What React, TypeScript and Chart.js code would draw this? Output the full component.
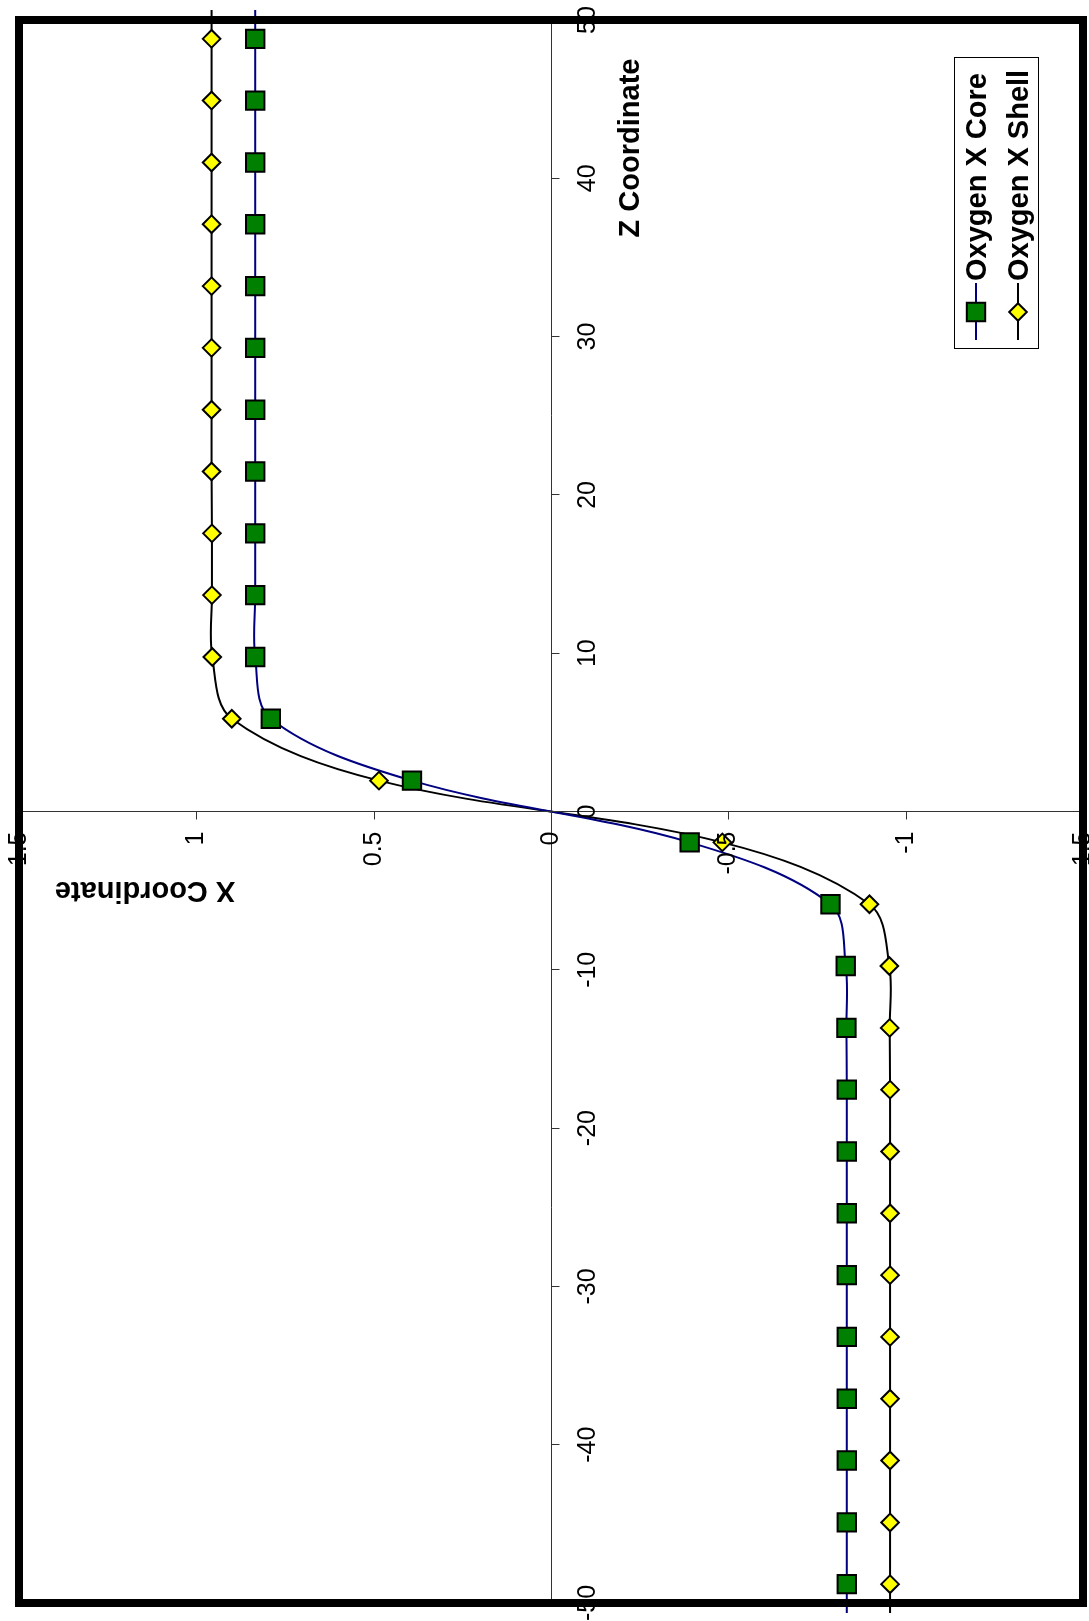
import React, { useEffect, useRef } from 'react';
import { Chart, registerables } from 'chart.js';

Chart.register(...registerables);

// Z position of every oxygen layer (Å), lowest first
const zCoordinates = [
  -52.72, -48.81, -44.91, -41.0, -37.1, -33.19, -29.29, -25.38, -21.48, -17.57, -13.67, -9.76, -5.86, -1.95,
  1.95, 5.86, 9.76, 13.67, 17.57, 21.48, 25.38, 29.29, 33.19, 37.1, 41.0, 44.91, 48.81, 52.72,
];

// X displacement of the core oxygen in each layer
const oxygenXCore = [
  -0.834, -0.834, -0.834, -0.834, -0.834, -0.834, -0.834, -0.834, -0.834, -0.834, -0.833, -0.831, -0.788, -0.391,
  0.392, 0.79, 0.834, 0.834, 0.834, 0.834, 0.834, 0.834, 0.834, 0.834, 0.834, 0.834, 0.834, 0.834,
];

// X displacement of the shell oxygen in each layer
const oxygenXShell = [
  -0.956, -0.956, -0.956, -0.956, -0.956, -0.956, -0.956, -0.956, -0.956, -0.956, -0.955, -0.954, -0.898, -0.483,
  0.485, 0.9, 0.955, 0.956, 0.956, 0.957, 0.957, 0.957, 0.957, 0.957, 0.957, 0.957, 0.957, 0.957,
];

const seriesNames = ['Oxygen X Core', 'Oxygen X Shell'];
const xAxisTitle = 'X Coordinate';
const zAxisTitle = 'Z Coordinate';
const xTickValues = [1.5, 1, 0.5, 0, -0.5, -1, -1.5];
const zTickValues = [-50, -40, -30, -20, -10, 0, 10, 20, 30, 40, 50];

const CORE_LINE = '#000080';
const CORE_FILL = '#008000';
const SHELL_LINE = '#000000';
const SHELL_FILL = '#FFFF00';
const FONT_FAMILY = '"Liberation Sans", Arial, Helvetica, sans-serif';

const pairs = (xs: number[]) => xs.map((x, i) => ({ x, y: zCoordinates[i] }));

function drawSquare(ctx: CanvasRenderingContext2D, cx: number, cy: number, half: number) {
  ctx.beginPath();
  ctx.rect(cx - half, cy - half, half * 2, half * 2);
  ctx.fillStyle = CORE_FILL;
  ctx.fill();
  ctx.lineWidth = 2;
  ctx.strokeStyle = '#000';
  ctx.stroke();
}

function drawDiamond(ctx: CanvasRenderingContext2D, cx: number, cy: number, r: number) {
  ctx.beginPath();
  ctx.moveTo(cx - r, cy);
  ctx.lineTo(cx, cy - r);
  ctx.lineTo(cx + r, cy);
  ctx.lineTo(cx, cy + r);
  ctx.closePath();
  ctx.fillStyle = SHELL_FILL;
  ctx.fill();
  ctx.lineWidth = 2;
  ctx.strokeStyle = '#000';
  ctx.stroke();
}

// Axes crossing at the origin, their labels, titles, frame and legend.
// The whole chart is laid out turned a quarter turn, so text runs bottom-to-top.
const crossedAxesPlugin = {
  id: 'crossedAxes',
  afterDatasetsDraw(chart: any) {
    const { ctx, chartArea: a } = chart;
    const xs = chart.scales.x;
    const ys = chart.scales.y;
    const x0 = Math.round(xs.getPixelForValue(0)) + 0.5;
    const y0 = Math.floor(ys.getPixelForValue(0)) + 0.5;

    ctx.save();
    ctx.strokeStyle = '#333';
    ctx.lineWidth = 1;
    ctx.beginPath();
    ctx.moveTo(x0, a.top);
    ctx.lineTo(x0, a.bottom);
    ctx.moveTo(a.left, y0);
    ctx.lineTo(a.right, y0);
    for (const v of zTickValues) {
      const py = Math.floor(ys.getPixelForValue(v)) + 0.5;
      ctx.moveTo(x0, py);
      ctx.lineTo(x0 + 8, py);
    }
    for (const v of xTickValues) {
      const px = Math.round(xs.getPixelForValue(v)) + 0.5;
      ctx.moveTo(px, y0);
      ctx.lineTo(px, y0 + 8);
    }
    ctx.stroke();

    // tick labels
    ctx.fillStyle = '#000';
    ctx.font = `25px ${FONT_FAMILY}`;
    ctx.textBaseline = 'middle';
    for (const v of zTickValues) {
      ctx.save();
      ctx.translate(x0 + 37, ys.getPixelForValue(v));
      ctx.rotate(-Math.PI / 2);
      ctx.textAlign = 'center';
      ctx.fillText(String(v), 0, 0);
      ctx.restore();
    }
    for (const v of xTickValues) {
      ctx.save();
      ctx.translate(xs.getPixelForValue(v), y0 + 20);
      ctx.rotate(-Math.PI / 2);
      ctx.textAlign = 'right';
      ctx.fillText(String(v), 0, 0);
      ctx.restore();
    }

    // axis titles
    ctx.font = `bold 29px ${FONT_FAMILY}`;
    ctx.textBaseline = 'alphabetic';
    ctx.textAlign = 'center';
    ctx.save();
    ctx.translate(x0 + 87, 148);
    ctx.rotate(-Math.PI / 2);
    ctx.fillText(zAxisTitle, 0, 0);
    ctx.restore();
    ctx.save();
    ctx.translate(145, y0 + 70);
    ctx.rotate(Math.PI);
    ctx.fillText(xAxisTitle, 0, 0);
    ctx.restore();

    // plot frame
    ctx.lineWidth = 8;
    ctx.strokeStyle = '#000';
    ctx.strokeRect(a.left, a.top, a.right - a.left, a.bottom - a.top);

    // legend
    const box = { left: 954.5, top: 57.5, width: 84, height: 291 };
    ctx.fillStyle = '#fff';
    ctx.fillRect(box.left, box.top, box.width, box.height);
    ctx.lineWidth = 1;
    ctx.strokeStyle = '#000';
    ctx.strokeRect(box.left, box.top, box.width, box.height);
    const keyTop = 283;
    const keyBottom = 340;
    const keyMid = 312;
    const columns = [976, 1018];
    columns.forEach((cx, i) => {
      ctx.beginPath();
      ctx.moveTo(cx, keyTop);
      ctx.lineTo(cx, keyBottom);
      ctx.lineWidth = 2;
      ctx.strokeStyle = i === 0 ? CORE_LINE : SHELL_LINE;
      ctx.stroke();
      if (i === 0) drawSquare(ctx, cx, keyMid, 9.2);
      else drawDiamond(ctx, cx, keyMid, 8.8);
      ctx.save();
      ctx.translate(cx + 10, keyTop - 2);
      ctx.rotate(-Math.PI / 2);
      ctx.font = `bold 29px ${FONT_FAMILY}`;
      ctx.fillStyle = '#000';
      ctx.textAlign = 'left';
      ctx.textBaseline = 'alphabetic';
      ctx.fillText(seriesNames[i], 0, 0);
      ctx.restore();
    });
    ctx.restore();
  },
};

export default function App() {
  const canvasRef = useRef<HTMLCanvasElement | null>(null);

  useEffect(() => {
    const canvas = canvasRef.current;
    if (!canvas) return;
    const lineCommon = {
      showLine: true,
      pointRadius: 0,
      pointHoverRadius: 0,
      borderWidth: 2,
      tension: 0.35,
      fill: false,
      clip: 10,
      order: 2,
    };
    const chart = new Chart(canvas, {
      type: 'scatter',
      data: {
        datasets: [
          { ...lineCommon, label: seriesNames[0], data: pairs(oxygenXCore), borderColor: CORE_LINE },
          { ...lineCommon, label: seriesNames[1], data: pairs(oxygenXShell), borderColor: SHELL_LINE },
          {
            label: seriesNames[0],
            data: pairs(oxygenXCore),
            showLine: false,
            pointStyle: 'rect',
            pointRadius: 13,
            pointBorderWidth: 2,
            pointBackgroundColor: CORE_FILL,
            pointBorderColor: '#000',
            order: 1,
          },
          {
            label: seriesNames[1],
            data: pairs(oxygenXShell),
            showLine: false,
            pointStyle: 'rectRot',
            pointRadius: 8.8,
            pointBorderWidth: 2,
            pointBackgroundColor: SHELL_FILL,
            pointBorderColor: '#000',
            order: 0,
          },
        ],
      },
      options: {
        responsive: false,
        animation: false,
        devicePixelRatio: 1,
        layout: { autoPadding: false, padding: { left: 19, top: 20, right: 6, bottom: 18 } },
        scales: {
          x: { type: 'linear', min: -1.5, max: 1.5, reverse: true, display: false },
          y: { type: 'linear', min: -50, max: 50, display: false },
        },
        plugins: {
          legend: { display: false },
          tooltip: { enabled: false },
        },
        events: [],
      },
      plugins: [crossedAxesPlugin],
    } as any);
    return () => chart.destroy();
  }, []);

  return (
    <div
      style={{
        position: 'absolute',
        left: 0,
        top: 0,
        width: 1089,
        height: 1621,
        overflow: 'hidden',
        background: '#fff',
      }}
    >
      <canvas ref={canvasRef} width={1089} height={1621} style={{ display: 'block' }} />
    </div>
  );
}
